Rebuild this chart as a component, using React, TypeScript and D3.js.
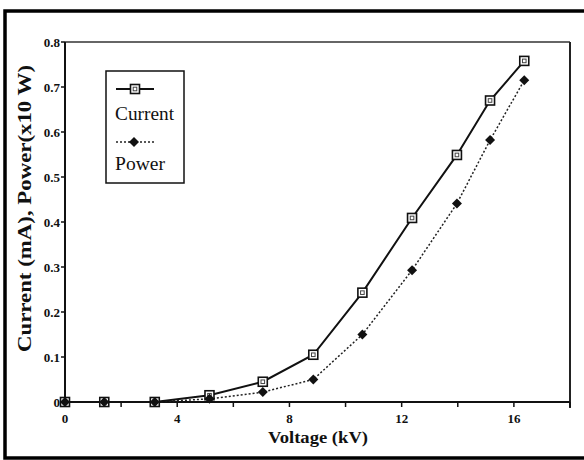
import React from "react";
import * as d3 from "d3";

// Voltage (kV) at each measurement
const voltage = [0, 1.4, 3.2, 5.15, 7.05, 8.85, 10.6, 12.37, 13.97, 15.15, 16.37];
// Discharge current (mA)
const current = [0, 0, 0, 0.015, 0.045, 0.105, 0.243, 0.409, 0.549, 0.67, 0.758];
// Power (x10 W)
const power = [0, 0, 0, 0.007, 0.022, 0.05, 0.15, 0.293, 0.441, 0.582, 0.715];

const xMajorTicks = [0, 4, 8, 12, 16];
const xMinorTicks = [2, 6, 10, 14, 18];
const yTicks = [0, 0.1, 0.2, 0.3, 0.4, 0.5, 0.6, 0.7, 0.8];

const W = 584;
const H = 460;
const plot = { left: 65, right: 570, top: 42, bottom: 402 };
const FONT = "Liberation Serif, Times New Roman, Times, serif";

export default function App() {
  const x = d3.scaleLinear().domain([0, 18]).range([plot.left, plot.right]);
  const y = d3.scaleLinear().domain([0, 0.8]).range([plot.bottom, plot.top]);

  const line = (vals: number[]) =>
    d3
      .line<number>()
      .x((_, i) => x(voltage[i]))
      .y((v) => y(v))(vals) || "";

  const square = (cx: number, cy: number, key: string) => (
    <g key={key}>
      <rect x={cx - 4.5} y={cy - 4.5} width={9} height={9} fill="#fff" stroke="#111" strokeWidth={1.6} />
      <rect x={cx - 1.8} y={cy - 1.8} width={3.6} height={3.6} fill="none" stroke="#444" strokeWidth={1} />
    </g>
  );
  const diamond = (cx: number, cy: number, key: string) => (
    <path key={key} d={`M${cx},${cy - 5}L${cx + 5},${cy}L${cx},${cy + 5}L${cx - 5},${cy}Z`} fill="#111" />
  );

  const txt = { fontFamily: FONT, fill: "#111" } as const;

  return (
    <svg width={W} height={H} style={{ position: "absolute", left: 0, top: 0, background: "#fff" }}>
      {/* outer frame */}
      <rect x={5} y={11} width={620} height={447} fill="none" stroke="#000" strokeWidth={3.5} />

      {/* plot box */}
      <line x1={plot.left} x2={plot.right} y1={plot.top} y2={plot.top} stroke="#333" strokeWidth={1.5} />
      <line x1={plot.right} x2={plot.right} y1={plot.top} y2={plot.bottom + 6} stroke="#222" strokeWidth={2} />
      <line x1={plot.left} x2={plot.left} y1={plot.top} y2={plot.bottom} stroke="#111" strokeWidth={2} />
      <line x1={plot.left} x2={plot.right} y1={plot.bottom} y2={plot.bottom} stroke="#111" strokeWidth={2} />

      {/* y ticks */}
      {yTicks.map((t) => (
        <g key={`y${t}`}>
          <line x1={plot.left - 4} x2={plot.left} y1={y(t)} y2={y(t)} stroke="#111" strokeWidth={1.5} />
          <text
            x={plot.left - 5}
            y={y(t)}
            dy="0.35em"
            textAnchor="end"
            style={{ ...txt, fontWeight: "bold", fontSize: 13 }}
          >
            {t === 0 ? "0" : d3.format(".1f")(t)}
          </text>
        </g>
      ))}

      {/* x ticks */}
      {xMajorTicks.map((t) => (
        <g key={`x${t}`}>
          <line x1={x(t)} x2={x(t)} y1={plot.bottom} y2={plot.bottom + 5} stroke="#111" strokeWidth={1.5} />
          <text x={x(t)} y={plot.bottom + 21} textAnchor="middle" style={{ ...txt, fontWeight: "bold", fontSize: 13 }}>
            {t}
          </text>
        </g>
      ))}
      {xMinorTicks.map((t) => (
        <line key={`xm${t}`} x1={x(t)} x2={x(t)} y1={plot.bottom} y2={plot.bottom + 5} stroke="#111" strokeWidth={1.5} />
      ))}

      {/* series */}
      <path d={line(power)} fill="none" stroke="#222" strokeWidth={1.5} strokeDasharray="2,2" />
      <path d={line(current)} fill="none" stroke="#111" strokeWidth={2} />
      {current.map((v, i) => square(x(voltage[i]), y(v), `c${i}`))}
      {power.map((v, i) => diamond(x(voltage[i]), y(v), `p${i}`))}

      {/* legend */}
      <rect x={106} y={71} width={78} height={112} fill="#fff" stroke="#111" strokeWidth={1.5} />
      <line x1={116} x2={154} y1={89} y2={89} stroke="#111" strokeWidth={2} />
      {square(135, 89, "lc")}
      <text x={115} y={120} style={{ ...txt, fontSize: 18 }} textLength={59} lengthAdjust="spacingAndGlyphs">
        Current
      </text>
      <line x1={116} x2={154} y1={142} y2={142} stroke="#222" strokeWidth={1.5} strokeDasharray="2,2" />
      {diamond(134, 142, "lp")}
      <text x={115} y={170} style={{ ...txt, fontSize: 18 }} textLength={50} lengthAdjust="spacingAndGlyphs">
        Power
      </text>

      {/* axis titles */}
      <text
        transform={`translate(31,${(65 + 352) / 2}) rotate(-90)`}
        textAnchor="middle"
        style={{ ...txt, fontWeight: "bold", fontSize: 18 }}
        textLength={287}
        lengthAdjust="spacingAndGlyphs"
      >
        Current (mA), Power(x10 W)
      </text>
      <text
        x={318}
        y={443}
        textAnchor="middle"
        style={{ ...txt, fontWeight: "bold", fontSize: 17 }}
        textLength={100}
        lengthAdjust="spacingAndGlyphs"
      >
        Voltage (kV)
      </text>
    </svg>
  );
}
